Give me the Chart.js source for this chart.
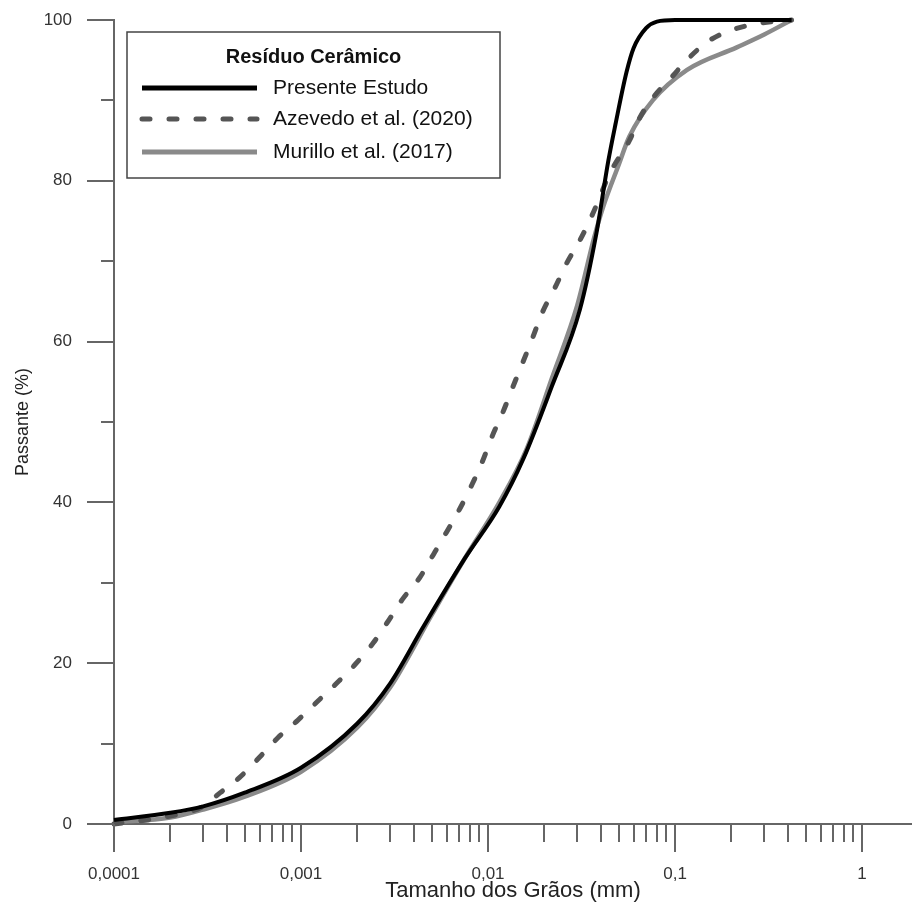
<!DOCTYPE html>
<html><head><meta charset="utf-8">
<script src="https://cdn.jsdelivr.net/npm/chart.js@4.4.1/dist/chart.umd.min.js"></script>
<style>html,body{margin:0;padding:0;background:#fff;}</style>
</head><body>
<canvas id="c" width="912" height="911"></canvas>
<script>
// ---- data ----
const legendTitle = 'Resíduo Cerâmico';
const xAxisTitle = 'Tamanho dos Grãos (mm)';
const yAxisTitle = 'Passante (%)';
const seriesLabels = ['Presente Estudo', 'Azevedo et al. (2020)', 'Murillo et al. (2017)'];
const xMajorTicks = [0.0001, 0.001, 0.01, 0.1, 1];
const yMajorTicks = [0, 20, 40, 60, 80, 100];
const yMinorTicks = [10, 30, 50, 70, 90];

const presenteX = [0.0001, 0.0002, 0.0003, 0.0005, 0.001, 0.002, 0.003, 0.0045, 0.0075, 0.0115, 0.0155, 0.022, 0.031, 0.038, 0.044, 0.048, 0.055, 0.06, 0.07, 0.08, 0.1, 0.42];
const presenteY = [0.5, 1.4, 2.2, 3.9, 7, 12.5, 17.5, 24.5, 33, 39.5, 45.5, 54.5, 64, 73.5, 82.5, 87, 93.5, 96.5, 99, 99.8, 100, 100];

const azevedoX = [0.0001, 0.0002, 0.0003, 0.00037, 0.00047, 0.0006, 0.00075, 0.00096, 0.00122, 0.00155, 0.00194, 0.00243, 0.00288, 0.0035, 0.0043, 0.0051, 0.006, 0.0071, 0.0082, 0.0093, 0.0106, 0.012, 0.0136, 0.0154, 0.0174, 0.0195, 0.0228, 0.0264, 0.031, 0.036, 0.045, 0.057, 0.065, 0.076, 0.096, 0.12, 0.154, 0.204, 0.285, 0.42];
const azevedoY = [0, 1, 2.2, 3.9, 5.8, 8.3, 10.7, 12.9, 15.2, 17.5, 19.8, 22.5, 25, 28, 30.6, 33.5, 36.3, 39.3, 42.2, 45, 48.4, 51.2, 54.4, 57.5, 60.6, 63.6, 66.7, 69.8, 72.6, 75.7, 81, 85, 87.9, 90.3, 92.9, 95.4, 97.5, 98.8, 99.6, 100];

const murilloX = [0.0001, 0.0002, 0.0003, 0.0005, 0.001, 0.002, 0.003, 0.005, 0.0075, 0.0115, 0.016, 0.022, 0.03, 0.037, 0.0412, 0.05, 0.057, 0.076, 0.116, 0.214, 0.3, 0.42];
const murilloY = [0.2, 0.8, 1.8, 3.4, 6.5, 12, 17, 26, 33, 40, 46.5, 55.5, 64.5, 73, 76.7, 82, 85.5, 90, 93.8, 96.6, 98.2, 100];

const FONT = "'Liberation Sans', Arial, sans-serif";
const pts = (xs, ys) => xs.map((x, i) => ({x: x, y: ys[i]}));
const noPad = s => { s.paddingTop = 0; s.paddingBottom = 0; s.paddingLeft = 0; s.paddingRight = 0; };

// ---- axis ticks (major/minor) drawn at scale positions ----
const tickPlugin = {
  id: 'axisTicks',
  afterDraw(chart) {
    const ctx = chart.ctx, xs = chart.scales.x, ys = chart.scales.y;
    const left = chart.chartArea.left, bottom = chart.chartArea.bottom;
    ctx.save();
    ctx.strokeStyle = '#666'; ctx.lineWidth = 2;
    ctx.beginPath();
    yMajorTicks.forEach(v => { const p = Math.round(ys.getPixelForValue(v)); ctx.moveTo(left - 27, p); ctx.lineTo(left, p); });
    yMinorTicks.forEach(v => { const p = Math.round(ys.getPixelForValue(v)); ctx.moveTo(left - 13, p); ctx.lineTo(left, p); });
    xMajorTicks.forEach(v => { const p = Math.round(xs.getPixelForValue(v)); ctx.moveTo(p, bottom); ctx.lineTo(p, bottom + 28); });
    xMajorTicks.forEach(d => { for (let k = 2; k <= 9; k++) { const v = k * d; if (v <= xs.max) { const p = Math.round(xs.getPixelForValue(v)); ctx.moveTo(p, bottom); ctx.lineTo(p, bottom + 18); } } });
    ctx.stroke();
    ctx.restore();
  }
};

// ---- boxed legend inside the plot ----
const boxLegend = {
  id: 'boxLegend',
  afterDraw(chart) {
    const ctx = chart.ctx, a = chart.chartArea;
    const bx = a.left + 13, by = a.top + 12, bw = 373, bh = 146;
    ctx.save();
    ctx.fillStyle = '#fff'; ctx.fillRect(bx, by, bw, bh);
    ctx.strokeStyle = '#444'; ctx.lineWidth = 1.5; ctx.strokeRect(bx, by, bw, bh);
    ctx.fillStyle = '#111'; ctx.textBaseline = 'middle'; ctx.textAlign = 'center';
    ctx.font = "bold 20px " + FONT;
    ctx.fillText(legendTitle, bx + bw / 2, by + 25);
    const rows = [by + 56, by + 87, by + 120];
    chart.data.datasets.forEach((ds, i) => {
      const y = rows[i];
      ctx.beginPath();
      ctx.strokeStyle = ds.borderColor; ctx.lineWidth = 5;
      ctx.lineCap = ds.borderCapStyle || 'butt';
      ctx.setLineDash(ds.borderDash || []);
      ctx.moveTo(bx + 15, y); ctx.lineTo(bx + 130, y); ctx.stroke();
      ctx.setLineDash([]);
      ctx.fillStyle = '#111'; ctx.textAlign = 'left';
      ctx.font = "21px " + FONT;
      ctx.fillText(ds.label, bx + 146, y);
    });
    ctx.restore();
  }
};

new Chart(document.getElementById('c'), {
  type: 'line',
  data: {
    datasets: [
      {label: seriesLabels[0], data: pts(presenteX, presenteY), borderColor: '#000', borderWidth: 4, cubicInterpolationMode: 'monotone', clip: false, pointRadius: 0},
      {label: seriesLabels[1], data: pts(azevedoX, azevedoY), borderColor: '#555', borderWidth: 5, borderDash: [8, 19], borderCapStyle: 'round', cubicInterpolationMode: 'monotone', clip: false, pointRadius: 0},
      {label: seriesLabels[2], data: pts(murilloX, murilloY), borderColor: '#8a8a8a', borderWidth: 4.5, cubicInterpolationMode: 'monotone', clip: false, pointRadius: 0}
    ]
  },
  options: {
    responsive: false,
    animation: false,
    devicePixelRatio: 1,
    layout: {padding: {top: 20, right: 0, left: 0, bottom: 0}},
    plugins: {legend: {display: false}, tooltip: {enabled: false}},
    scales: {
      x: {
        type: 'logarithmic', min: 0.0001, max: 1.85, position: 'bottom',
        afterBuildTicks: s => { s.ticks = xMajorTicks.map(v => ({value: v})); },
        afterFit: s => { s.height = 87; noPad(s); },
        grid: {display: false, drawTicks: false},
        border: {display: true, color: '#666', width: 2},
        ticks: {autoSkip: false, maxRotation: 0, minRotation: 0, padding: 40, color: '#333', font: {family: FONT, size: 17},
                callback: v => String(v).replace('.', ',')},
        title: {display: true, text: xAxisTitle, color: '#222', font: {family: FONT, size: 22}, padding: {top: 0, bottom: 7}}
      },
      y: {
        min: 0, max: 100, position: 'left',
        afterBuildTicks: s => { s.ticks = yMajorTicks.map(v => ({value: v})); },
        afterFit: s => { s.width = 114; noPad(s); },
        grid: {display: false, drawTicks: false},
        border: {display: true, color: '#666', width: 2},
        ticks: {padding: 42, color: '#333', font: {family: FONT, size: 17}},
        title: {display: true, text: yAxisTitle, color: '#222', font: {family: FONT, size: 18}, padding: {top: 12, bottom: 0}}
      }
    }
  },
  plugins: [tickPlugin, boxLegend]
});
</script>
</body></html>
